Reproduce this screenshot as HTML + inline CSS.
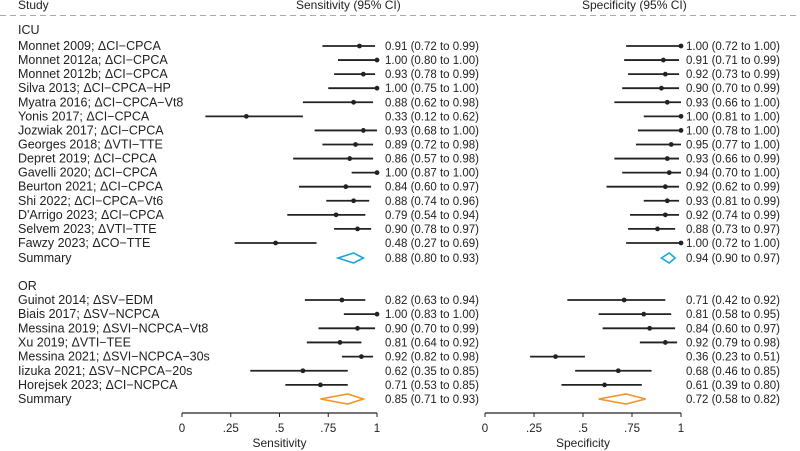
<!DOCTYPE html>
<html><head><meta charset="utf-8"><style>
body{margin:0;background:#fff;}
svg{display:block;font-family:"Liberation Sans",sans-serif;}
</style></head><body>
<svg id="c" width="800" height="451"></svg>
<script>
const studies=["Monnet 2009; ΔCI−CPCA","Monnet 2012a; ΔCI−CPCA","Monnet 2012b; ΔCI−CPCA","Silva 2013; ΔCI−CPCA−HP","Myatra 2016; ΔCI−CPCA−Vt8","Yonis 2017; ΔCI−CPCA","Jozwiak 2017; ΔCI−CPCA","Georges 2018; ΔVTI−TTE","Depret 2019; ΔCI−CPCA","Gavelli 2020; ΔCI−CPCA","Beurton 2021; ΔCI−CPCA","Shi 2022; ΔCI−CPCA−Vt6","D'Arrigo 2023; ΔCI−CPCA","Selvem 2023; ΔVTI−TTE","Fawzy 2023; ΔCO−TTE"];
const sens=[0.91,1.00,0.93,1.00,0.88,0.33,0.93,0.89,0.86,1.00,0.84,0.88,0.79,0.90,0.48];
const sensLo=[0.72,0.80,0.78,0.75,0.62,0.12,0.68,0.72,0.57,0.87,0.60,0.74,0.54,0.78,0.27];
const sensHi=[0.99,1.00,0.99,1.00,0.98,0.62,1.00,0.98,0.98,1.00,0.97,0.96,0.94,0.97,0.69];
const spec=[1.00,0.91,0.92,0.90,0.93,1.00,1.00,0.95,0.93,0.94,0.92,0.93,0.92,0.88,1.00];
const specLo=[0.72,0.71,0.73,0.70,0.66,0.81,0.78,0.77,0.66,0.70,0.62,0.81,0.74,0.73,0.72];
const specHi=[1.00,0.99,0.99,0.99,1.00,1.00,1.00,1.00,0.99,1.00,0.99,0.99,0.99,0.97,1.00];
const studiesOR=["Guinot 2014; ΔSV−EDM","Biais 2017; ΔSV−NCPCA","Messina 2019; ΔSVI−NCPCA−Vt8","Xu 2019; ΔVTI−TEE","Messina 2021; ΔSVI−NCPCA−30s","Iizuka 2021; ΔSV−NCPCA−20s","Horejsek 2023; ΔCI−NCPCA"];
const sensOR=[0.82,1.00,0.90,0.81,0.92,0.62,0.71];
const sensOLo=[0.63,0.83,0.70,0.64,0.82,0.35,0.53];
const sensOHi=[0.94,1.00,0.99,0.92,0.98,0.85,0.85];
const specOR=[0.71,0.81,0.84,0.92,0.36,0.68,0.61];
const specOLo=[0.42,0.58,0.60,0.79,0.23,0.46,0.39];
const specOHi=[0.92,0.95,0.97,0.98,0.51,0.85,0.80];
const sumICU=[0.88,0.80,0.93], sumICUspec=[0.94,0.90,0.97];
const sumOR=[0.85,0.71,0.93], sumORspec=[0.72,0.58,0.82];
const ticks=[0,0.25,0.5,0.75,1], tickLabels=["0",".25",".5",".75","1"];

const svg=document.getElementById('c');const NS="http://www.w3.org/2000/svg";
function el(t,a,p){const e=document.createElementNS(NS,t);for(const k in a)e.setAttribute(k,a[k]);(p||svg).appendChild(e);return e;}
function txt(x,y,s,name,anchor,fs){const e=el('text',{x:x,y:y,'font-size':fs||11.5,fill:'#222','text-anchor':anchor||'start'});e.textContent=s;

return e;}
const sx=v=>182+v*195, px=v=>485+v*196;
const f=v=>v.toFixed(2);
txt(18,9,"Study","study-header",null,12);
txt(296,9,"Sensitivity (95% CI)","sensitivity-header",null,12);
txt(582,9,"Specificity (95% CI)","specificity-header",null,12);
let dl=el('line',{x1:0,x2:800,y1:15.5,y2:15.5,stroke:'#aaa','stroke-dasharray':'6,4'});


function row(y,label,v,lo,hi,sv,slo,shi){
 txt(18,y+4,label,'study-label',null,12.5);
 [[sx,v,lo,hi,385],[px,sv,slo,shi,686]].forEach(([X,a,b,c,tx],i)=>{
  const l=el('line',{x1:X(b),x2:X(c),y1:y,y2:y,stroke:'#222','stroke-width':1.8});
  
  
  const d=el('circle',{cx:X(a),cy:y,r:2.4,fill:'#222'});
  
  
  txt(tx,y+4,f(a)+" ("+f(b)+" to "+f(c)+")",i?'specificity-value':'sensitivity-value');
 });
}
function summ(y,s,sp,col){
 txt(18,y+4,"Summary",'summary-label',null,12.5);
 [[sx,s,385],[px,sp,686]].forEach(([X,a,tx],i)=>{
  const d=el('polygon',{points:`${X(a[1])},${y} ${X(a[0])},${y-5} ${X(a[2])},${y} ${X(a[0])},${y+5}`,fill:'none',stroke:col,'stroke-width':1.6});
  
  
  txt(tx,y+4,f(a[0])+" ("+f(a[1])+" to "+f(a[2])+")",i?'specificity-summary-value':'sensitivity-summary-value');
 });
}
txt(18,34,"ICU","icu-group-label",null,12.5);
studies.forEach((s,i)=>row(46+i*14.07,s,sens[i],sensLo[i],sensHi[i],spec[i],specLo[i],specHi[i]));
summ(258,sumICU,sumICUspec,'#1ba6d8');
txt(18,290,"OR","or-group-label",null,12.5);
studiesOR.forEach((s,i)=>row(300+i*14.15,s,sensOR[i],sensOLo[i],sensOHi[i],specOR[i],specOLo[i],specOHi[i]));
summ(399,sumOR,sumORspec,'#f0962c');
[[sx,"Sensitivity","sensitivity-axis"],[px,"Specificity","specificity-axis"]].forEach(([X,t,n])=>{
 const a=el('line',{x1:X(0),x2:X(1),y1:413,y2:413,stroke:'#222','stroke-width':1.2});
 
 
 ticks.forEach((v,i)=>{const tk=el('line',{x1:X(v),x2:X(v),y1:413,y2:417,stroke:'#222'});
  
  
  txt(X(v),432,tickLabels[i],'tick-label','middle');});
 txt((X(0)+X(1))/2,447,t,n+'-title','middle',12);
});
</script>
</body></html>
